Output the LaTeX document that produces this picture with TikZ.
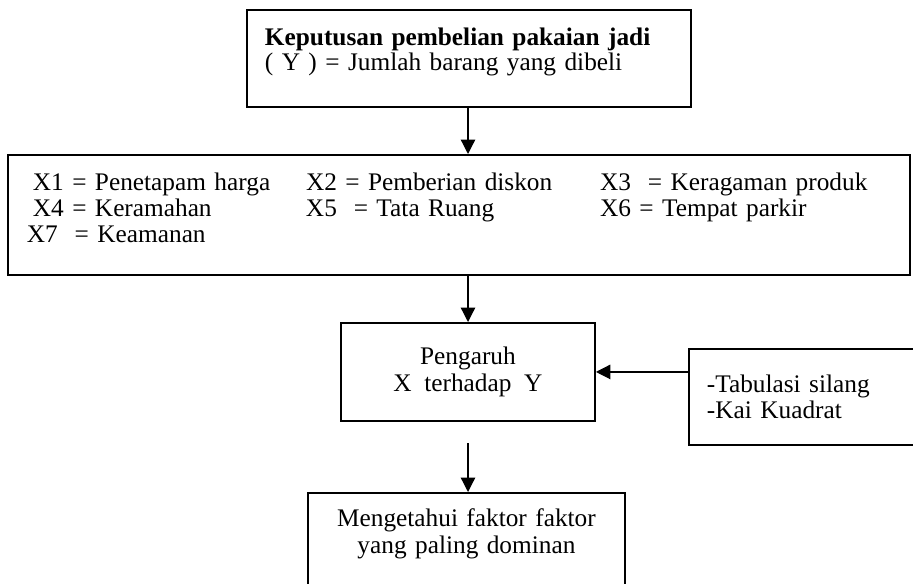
\documentclass[tikz,border=0pt]{standalone}
\usepackage{fontspec}
\setmainfont{Liberation Serif}
\usetikzlibrary{arrows.meta,positioning}

\begin{document}
\begin{tikzpicture}[x=0.025cm, y=-0.025cm, >={Triangle[length=0.36cm, width=0.36cm]},
		font=\fontsize{18}{19}\selectfont]
			\tikzstyle{kotak}=[draw, line width=1.3pt, anchor=north west, inner ysep=0pt]
			\tikzstyle{panah}=[->, line width=0.9pt]
			\useasboundingbox (0,0) rectangle (913,584);
			\node[kotak, inner xsep=0.45cm, text width=10.2cm, text height=0.9cm, text depth=1.525cm, align=left,
				font=\fontsize{18}{15.8}\selectfont] (keputusan) at (246,9)
				{\textbf{Keputusan pembelian pakaian jadi}\\( Y ) = Jumlah barang yang dibeli};
			\node[kotak, inner xsep=0pt, text width=22.55cm, text height=0.9cm, text depth=2.1cm, align=left,
				font=\fontsize{18}{18.5}\selectfont] (faktor) at (7,154)
				{\hspace*{0.625cm}\makebox[6.825cm][l]{X1 = Penetapam harga}\makebox[7.35cm][l]{X2 = Pemberian diskon}X3~ = Keragaman produk\\
				 \hspace*{0.625cm}\makebox[6.825cm][l]{X4 = Keramahan}\makebox[7.35cm][l]{X5~ = Tata Ruang}X6 = Tempat parkir\\
				 \hspace*{0.475cm}X7~ = Keamanan};
			\node[kotak, minimum width=6.35cm, minimum height=2.45cm, align=center] (pengaruh) at (340,322)
				{Pengaruh\\X~ terhadap~ Y};
			\node[kotak, inner xsep=0.45cm, text width=5.6cm, minimum height=2.4cm, align=left] (metode) at (688,348)
				{-Tabulasi silang\\-Kai Kuadrat};
			\node[kotak, inner xsep=0pt, text width=7.925cm, text height=0.85cm, text depth=2.1cm, align=center] (tujuan) at (307,492)
				{Mengetahui faktor faktor\\yang paling dominan};
			\coordinate (poros) at (468,0);
			\coordinate (awal) at (468,443);
			\draw[panah] (keputusan.south -| poros) -- (faktor.north -| poros);
			\draw[panah] (faktor.south -| poros) -- (pengaruh.north -| poros);
			\draw[panah] (metode.west |- pengaruh.east) -- (pengaruh.east);
			\draw[panah] (awal) -- (tujuan.north -| awal);
		\end{tikzpicture}
\end{document}
